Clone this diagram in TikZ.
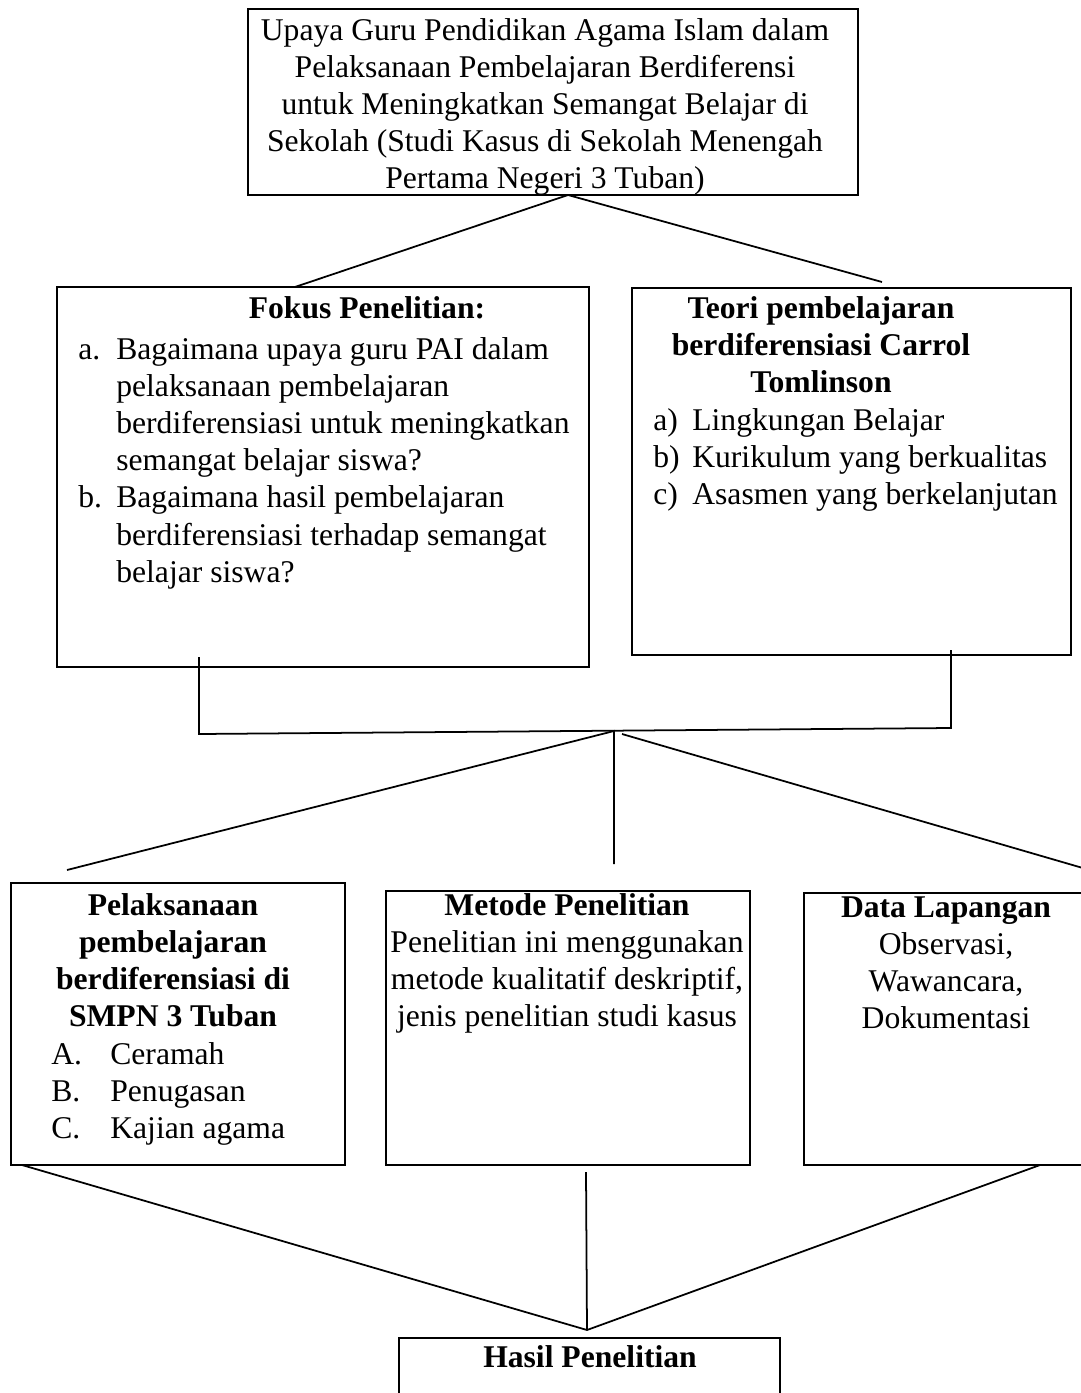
\documentclass[tikz,border=0pt]{standalone}
\usepackage{fontspec}
\setmainfont{Liberation Serif}
\begin{document}
\begin{tikzpicture}[
    x=0.02cm, y=-0.02cm,
    every node/.style={font=\fontsize{18}{21.2}\selectfont, inner sep=0pt},
    kotak/.style={rectangle, draw=black, line width=1.2pt},
    teks/.style={anchor=base},
    garis/.style={draw=black, line width=1pt}
  ]
  \useasboundingbox (0,0) rectangle (1081,1393);
  \clip (0,0) rectangle (1081,1393);

  % Kotak judul
  \node[kotak, minimum width=12.2cm, minimum height=3.72cm] (judul) at (553,102) {};
  \node[teks] (judulTxt) at (545,40) {\begin{tabular}[t]{@{}c@{}}
    Upaya Guru Pendidikan Agama Islam dalam\\
    Pelaksanaan Pembelajaran Berdiferensi\\
    untuk Meningkatkan Semangat Belajar di\\
    Sekolah (Studi Kasus di Sekolah Menengah\\
    Pertama Negeri 3 Tuban)\end{tabular}};

  % Fokus dan teori
  \node[kotak, minimum width=10.64cm, minimum height=7.6cm] (fokus) at (323,477) {};
  \node[teks] (fokusTtl) at (367,318) {\bfseries Fokus Penelitian:};
  \node[teks, anchor=base west] (fokusIsi) at (78,359) {\begin{tabular}[t]{@{}p{0.76cm}@{}l@{}}
    a. & Bagaimana upaya guru PAI dalam\\
       & pelaksanaan pembelajaran\\
       & berdiferensiasi untuk meningkatkan\\
       & semangat belajar siswa?\\
    b. & Bagaimana hasil pembelajaran\\
       & berdiferensiasi terhadap semangat\\
       & belajar siswa?\end{tabular}};

  \node[kotak, minimum width=8.78cm, minimum height=7.34cm] (teori) at (851.5,471.5) {};
  \node[teks] (teoriTtl) at (821,318) {\bfseries\begin{tabular}[t]{@{}c@{}}
    Teori pembelajaran\\ berdiferensiasi Carrol\\ Tomlinson\end{tabular}};
  \node[teks, anchor=base west] (teoriIsi) at (653,430) {\begin{tabular}[t]{@{}p{0.78cm}@{}l@{}}
    a) & Lingkungan Belajar\\
    b) & Kurikulum yang berkualitas\\
    c) & Asasmen yang berkelanjutan\end{tabular}};

  % Baris bawah
  \node[kotak, minimum width=6.68cm, minimum height=5.64cm] (laks) at (178,1024) {};
  \node[teks] (laksTtl) at (173,915) {\bfseries\begin{tabular}[t]{@{}c@{}}
    Pelaksanaan\\ pembelajaran\\ berdiferensiasi di\\ SMPN 3 Tuban\end{tabular}};
  \node[teks, anchor=base west] (laksIsi) at (51,1064) {\begin{tabular}[t]{@{}p{1.18cm}@{}l@{}}
    A. & Ceramah\\
    B. & Penugasan\\
    C. & Kajian agama\end{tabular}};

  \node[kotak, minimum width=7.28cm, minimum height=5.48cm] (metode) at (568,1028) {};
  \node[teks] (metodeTtl) at (567,915) {\begin{tabular}[t]{@{}c@{}}
    \bfseries Metode Penelitian\\
    Penelitian ini menggunakan\\
    metode kualitatif deskriptif,\\
    jenis penelitian studi kasus\end{tabular}};

  \node[kotak, minimum width=5.92cm, minimum height=5.44cm] (data) at (952,1029) {};
  \node[teks] (dataTtl) at (946,917) {\begin{tabular}[t]{@{}c@{}}
    \bfseries Data Lapangan\\
    Observasi,\\
    Wawancara,\\
    Dokumentasi\end{tabular}};

  \node[kotak, minimum width=7.62cm, minimum height=1.64cm] (hasil) at (589.5,1379) {};
  \node[teks] (hasilTtl) at (590,1367) {\bfseries Hasil Penelitian};

  % Titik sambung
  \coordinate (judulBawah) at (568,195);
  \coordinate (fokusAtas) at (295,287);
  \coordinate (teoriAtas) at (882,282);
  \coordinate (fokusBawah) at (199,657);
  \coordinate (teoriBawah) at (951,650);
  \coordinate (kiriSiku) at (199,734);
  \coordinate (kananSiku) at (951,728);
  \coordinate (tengah) at (614,731);
  \coordinate (laksAtas) at (67,870);
  \coordinate (metodeAtas) at (614,864);
  \coordinate (tengahKanan) at (622,734);
  \coordinate (dataAtas) at (1100,873);
  \coordinate (laksBawah) at (22,1165);
  \coordinate (metodeBawah) at (586,1172);
  \coordinate (dataBawah) at (1040,1165);
  \coordinate (hasilAtas) at (587,1330);

  % Garis penghubung
  \draw[garis] (fokusAtas) -- (judulBawah) -- (teoriAtas);
  \draw[garis] (fokusBawah) -- (kiriSiku) -- (kananSiku) -- (teoriBawah);
  \draw[garis] (laksAtas) -- (tengah) -- (metodeAtas);
  \draw[garis] (tengahKanan) -- (dataAtas);
  \draw[garis] (laksBawah) -- (hasilAtas) -- (dataBawah);
  \draw[garis] (metodeBawah) -- (hasilAtas);
\end{tikzpicture}
\end{document}
